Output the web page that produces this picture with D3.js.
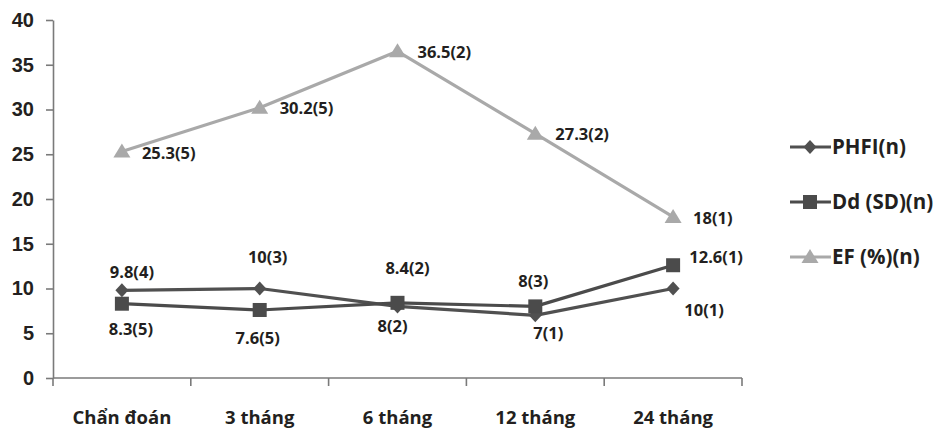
<!DOCTYPE html>
<html>
<head>
<meta charset="utf-8">
<script src="https://cdn.jsdelivr.net/npm/d3@7/dist/d3.min.js"></script>
<style>
  html, body { margin: 0; padding: 0; background: #fff; }
  svg { display: block; font-family: "Open Sans", "Noto Sans", sans-serif; }
</style>
</head>
<body>
<svg id="chart" width="940" height="430"></svg>
<script>
// Time points
const categories = ["Chẩn đoán", "3 tháng", "6 tháng", "12 tháng", "24 tháng"];

// Series values
const phfiValues = [9.8, 10, 8, 7, 10];
const ddValues   = [8.3, 7.6, 8.4, 8, 12.6];
const efValues   = [25.3, 30.2, 36.5, 27.3, 18];

// Sample counts shown next to each value
const phfiN = [4, 3, 2, 1, 1];
const ddN   = [5, 5, 2, 3, 1];
const efN   = [5, 5, 2, 2, 1];

// Series names
const seriesNames = ["PHFI(n)", "Dd (SD)(n)", "EF (%)(n)"];

// Y axis ticks
const yTicks = [0, 5, 10, 15, 20, 25, 30, 35, 40];

// Label offsets (pixels from the marker) for each point
const phfiLabelOffsets = [[10, -18], [8, -31], [-5, 20], [13, 18], [31, 22]];
const ddLabelOffsets   = [[9, 26], [-2, 28], [10, -35], [-2, -25], [43, -8]];
const efLabelOffsets   = [[20, 2], [20, 1], [20, 1], [20, 1], [20, 1]];

const svg = d3.select("#chart");
const margin = { left: 53, right: 198, top: 20, bottom: 52 };
const W = 940, H = 430;

const x = d3.scaleBand().domain(categories).range([margin.left, W - margin.right]).padding(0);
const y = d3.scaleLinear().domain([0, 40]).range([H - margin.bottom, margin.top]);

const axisColor = "#7a7a7a";
const textColor = "#231f20";

// Y axis
const yAxis = svg.append("g")
  .attr("transform", `translate(${margin.left},0)`)
  .call(d3.axisLeft(y).tickValues(yTicks).tickSize(7).tickPadding(12).tickSizeOuter(0));
yAxis.select(".domain").attr("stroke", axisColor).attr("stroke-width", 1.6);
yAxis.selectAll(".tick line").attr("stroke", axisColor).attr("stroke-width", 1.6);
yAxis.selectAll(".tick text")
  .attr("fill", textColor).attr("font-size", 20).attr("font-weight", 700);

// X axis with tick marks at the band boundaries
const xAxisG = svg.append("g").attr("transform", `translate(0,${y(0)})`);
xAxisG.append("line")
  .attr("x1", margin.left).attr("x2", W - margin.right)
  .attr("stroke", axisColor).attr("stroke-width", 1.6);
const boundaries = categories.map(c => x(c)).concat([x(categories[categories.length - 1]) + x.bandwidth()]);
xAxisG.selectAll("line.tk").data(boundaries).join("line")
  .attr("class", "tk")
  .attr("x1", d => d).attr("x2", d => d)
  .attr("y1", 0).attr("y2", 8)
  .attr("stroke", axisColor).attr("stroke-width", 1.6);
xAxisG.selectAll("text").data(categories).join("text")
  .attr("x", d => x(d) + x.bandwidth() / 2)
  .attr("y", 46)
  .attr("text-anchor", "middle")
  .attr("fill", textColor).attr("font-size", 18.5).attr("font-weight", 700)
  .text(d => d);

const cx = c => x(c) + x.bandwidth() / 2;

const series = [
  { name: seriesNames[0], values: phfiValues, n: phfiN, offsets: phfiLabelOffsets, color: "#505050", marker: "diamond" },
  { name: seriesNames[1], values: ddValues, n: ddN, offsets: ddLabelOffsets, color: "#4b4b4b", marker: "square" },
  { name: seriesNames[2], values: efValues, n: efN, offsets: efLabelOffsets, color: "#a9a9a9", marker: "triangle" }
];

function drawMarker(g, type, color, px, py) {
  if (type === "diamond") {
    g.append("path").attr("d", `M${px},${py - 7}L${px + 6.5},${py}L${px},${py + 7}L${px - 6.5},${py}Z`).attr("fill", color);
  } else if (type === "square") {
    g.append("rect").attr("x", px - 7).attr("y", py - 7).attr("width", 14).attr("height", 14).attr("fill", color);
  } else {
    g.append("path").attr("d", `M${px},${py - 8}L${px + 8.5},${py + 6}L${px - 8.5},${py + 6}Z`).attr("fill", color);
  }
}

const line = d3.line().x((d, i) => cx(categories[i])).y(d => y(d));

// Draw EF first so the dark series sit on top
[series[2], series[0], series[1]].forEach(s => {
  const g = svg.append("g");
  g.append("path").datum(s.values).attr("d", line)
    .attr("fill", "none").attr("stroke", s.color).attr("stroke-width", 3.2).attr("stroke-linejoin", "round");
  s.values.forEach((v, i) => drawMarker(g, s.marker, s.color, cx(categories[i]), y(v)));
  g.selectAll("text").data(s.values).join("text")
    .attr("x", (d, i) => cx(categories[i]) + s.offsets[i][0])
    .attr("y", (d, i) => y(d) + s.offsets[i][1])
    .attr("dy", "0.35em")
    .attr("text-anchor", s.marker === "triangle" ? "start" : "middle")
    .attr("fill", textColor).attr("font-size", 16.5).attr("font-weight", 700)
    .text((d, i) => `${d}(${s.n[i]})`);
});

// Legend
const legend = svg.append("g");
const legendRows = [147, 202, 257];
series.forEach((s, i) => {
  const ly = legendRows[i];
  legend.append("line").attr("x1", 790).attr("x2", 831).attr("y1", ly).attr("y2", ly)
    .attr("stroke", s.color).attr("stroke-width", 3.2);
  drawMarker(legend, s.marker, s.color, 810, ly);
  legend.append("text").attr("x", 832).attr("y", ly).attr("dy", "0.35em")
    .attr("fill", textColor).attr("font-size", 20.5).attr("font-weight", 700)
    .text(s.name);
});
</script>
</body>
</html>
